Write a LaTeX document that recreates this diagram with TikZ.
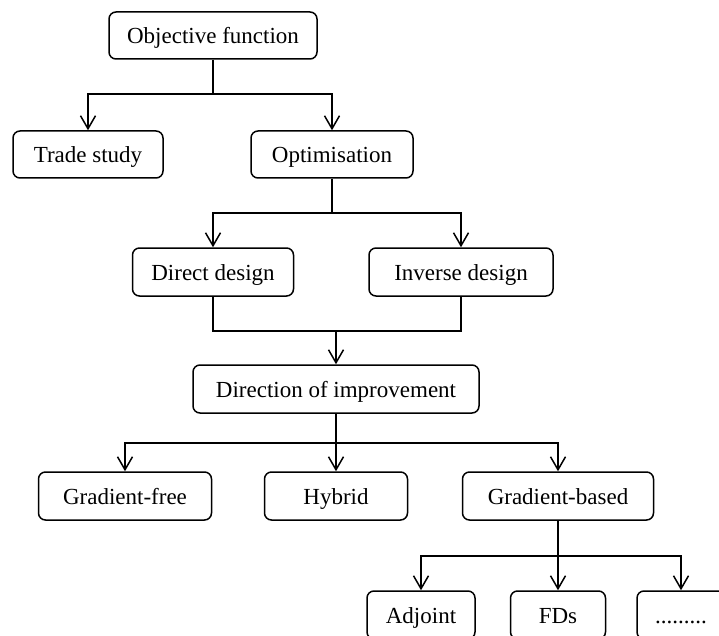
\documentclass[tikz,border=0pt]{standalone}
\usepackage{fontspec}
\setmainfont{Liberation Serif}
\usetikzlibrary{arrows.meta}
\begin{document}
\begin{tikzpicture}[x=1pt,y=-1pt,
  box/.style={draw, line width=1.5pt, rounded corners=7pt, inner sep=0pt,
    minimum height=48pt, text height=20pt, text depth=3pt,
    font=\fontsize{23}{27}\selectfont, text=black},
  conn/.style={line width=1.5pt},
  arr/.style={conn, -{Straight Barb[length=13pt,width=15pt,line width=1.5pt]}}]
\useasboundingbox (0,0) rectangle (719,636);
\clip (0,0) rectangle (719,636);
% nodes
\node[box, minimum width=208pt, minimum height=47pt] (obj) at (213,35.5) {Objective function};
\node[box, minimum width=150pt, minimum height=47pt] (trade) at (88,154.5) {Trade study};
\node[box, minimum width=162pt, minimum height=47pt] (opt) at (332,154.5) {Optimisation};
\node[box, minimum width=161pt] (direct) at (213,272) {Direct design};
\node[box, minimum width=184pt] (inverse) at (461,272) {Inverse design};
\node[box, minimum width=286pt] (dir) at (336,389) {Direction of improvement};
\node[box, minimum width=173pt] (gfree) at (125,496) {Gradient-free};
\node[box, minimum width=143pt] (hybrid) at (336,496) {Hybrid};
\node[box, minimum width=191pt] (gbased) at (558,496) {Gradient-based};
\node[box, minimum width=108pt] (adjoint) at (421,615) {Adjoint};
\node[box, minimum width=95pt] (fds) at (558,615) {FDs};
\node[box, minimum width=88pt] (dots) at (681,615) {.........};
% junctions
\coordinate (j1) at (213,94);
\coordinate (j2) at (332,213);
\coordinate (j3) at (336,331);
\coordinate (j4) at (336,443);
\coordinate (j5) at (558,556);
% connectors
\draw[conn] (obj.south) -- (j1);
\draw[arr] (j1) -| (trade.north);
\draw[arr] (j1) -| (opt.north);
\draw[conn] (opt.south) -- (j2);
\draw[arr] (j2) -| (direct.north);
\draw[arr] (j2) -| (inverse.north);
\draw[conn] (direct.south) |- (j3) -| (inverse.south);
\draw[arr] (j3) -- (dir.north);
\draw[conn] (dir.south) -- (j4);
\draw[arr] (j4) -| (gfree.north);
\draw[arr] (j4) -| (hybrid.north);
\draw[arr] (j4) -| (gbased.north);
\draw[conn] (gbased.south) -- (j5);
\draw[arr] (j5) -| (adjoint.north);
\draw[arr] (j5) -- (fds.north);
\draw[arr] (j5) -| (dots.north);
\end{tikzpicture}
\end{document}
